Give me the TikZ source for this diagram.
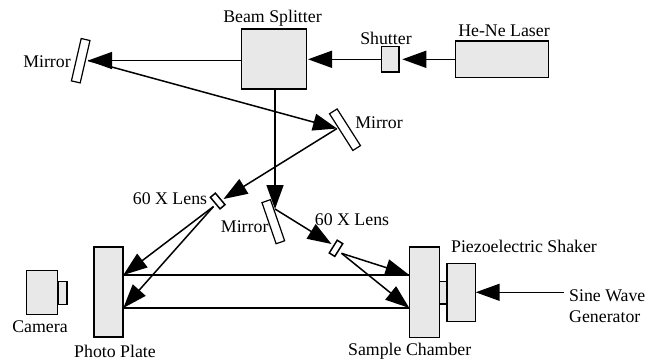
\documentclass[tikz,border=0pt]{standalone}
\usepackage{fontspec}
\setmainfont{Liberation Serif}
\usetikzlibrary{arrows.meta}
\tikzset{
  box/.style={draw,line width=1.5pt,fill=black!9,inner sep=0pt,outer sep=0pt},
  optic/.style={draw,line width=1.2pt,fill=white,inner sep=0pt,outer sep=0pt,minimum width=9pt,minimum height=43.5pt},
  lens/.style={draw,line width=1.5pt,fill=white,inner sep=0pt,outer sep=0pt,minimum width=6.5pt,minimum height=15pt},
  lbl/.style={inner sep=0pt,font=\fontsize{17.8}{21.5}\selectfont},
  beam/.style={line width=1.5pt,-{Triangle[length=24pt,width=17pt]}},
  ray/.style={line width=1.2pt},
}
\begin{document}
\begin{tikzpicture}[x=1pt,y=-1pt]
  \useasboundingbox (0,0) rectangle (651,360);
  % \draw[help lines] (0,0) grid (651,360);
  \node[box,minimum width=65pt,minimum height=60pt] (bs) at (274.2,59) {};
  \node[box,minimum width=17.5pt,minimum height=25.5pt] (shutter) at (390,59.3) {};
  \node[box,minimum width=93pt,minimum height=36.5pt] (laser) at (502.2,59) {};
  \node[optic,rotate=-13] (m1) at (80.7,60.7) {};
  \node[optic,rotate=32.5] (m2) at (345,129.7) {};
  \node[optic,rotate=19] (m3) at (273.3,221.7) {};
  \node[lens,rotate=40] (l1) at (217.7,201) {};
  \node[lens,rotate=-32] (l2) at (336,248.3) {};
  \node[box,minimum width=29pt,minimum height=90pt] (plate) at (108.5,292) {};
  \node[box,minimum width=31.4pt,minimum height=44pt] (camera) at (42,292.3) {};
  \node[box,minimum width=9.3pt,minimum height=22.6pt] (lensmount) at (62.4,293) {};
  \node[box,minimum width=30pt,minimum height=90.7pt] (chamber) at (424.3,292.3) {};
  \node[box,minimum width=7.7pt,minimum height=22.7pt] (post) at (443.2,292.6) {};
  \node[box,minimum width=28.3pt,minimum height=58pt] (shaker) at (461.2,292.3) {};

  \node[lbl] (bslab) at (272.5,18) {Beam Splitter};
  \node[lbl] (shutterlab) at (386,38) {Shutter};
  \node[lbl] (laserlab) at (504,31) {He-Ne Laser};
  \node[lbl] (m1lab) at (47,62) {Mirror};
  \node[lbl] (m2lab) at (379,123) {Mirror};
  \node[lbl] (m3lab) at (244.7,227) {Mirror};
  \node[lbl] (l1lab) at (170,199) {60 X Lens};
  \node[lbl] (l2lab) at (352,220) {60 X Lens};
  \node[lbl] (camlab) at (40,326.7) {Camera};
  \node[lbl] (platelab) at (115,351.5) {Photo Plate};
  \node[lbl] (chamberlab) at (409.7,351.5) {Sample Chamber};
  \node[lbl] (shakerlab) at (524,246.7) {Piezoelectric Shaker};
  \node[lbl,align=left,anchor=west] (sine) at (569,306) {Sine Wave\\Generator};

  \coordinate (m1hit) at (88,60.5);
  \coordinate (m2hit) at (337,128.5);
  \coordinate (m3hit) at (275,209);
  \coordinate (l1in) at (223.5,199);
  \coordinate (l1out) at (213.5,206.5);
  \coordinate (l2in) at (331.5,244);
  \coordinate (l2out) at (341.5,253.3);
  \coordinate (pa) at (123.3,275);
  \coordinate (pb) at (123.3,308);
  \coordinate (ca) at (409.3,275);
  \coordinate (cb) at (409.3,308);
  \coordinate (bsdown) at (275,89);
  \coordinate (sinein) at (475.7,292.3);
  \coordinate (sinefrom) at (564,292.3);

  \draw[beam] (laser.west |- shutter) -- ([xshift=3.5pt]shutter.east);
  \draw[beam] (shutter) -- ([xshift=1.3pt]bs.east |- shutter);
  \draw[beam] (bs.west |- m1hit) -- (m1hit);
  \draw[beam] (m1hit) -- (m2hit);
  \draw[beam] (m2hit) -- (l1in);
  \draw[beam] (bsdown) -- (m3hit);
  \draw[beam] (m3hit) -- (l2in);
  \draw[beam] (l2out) -- (ca);
  \draw[beam] (l2out) -- (cb);
  \draw[beam] (l1out) -- (pa);
  \draw[beam] (l1out) -- (pb);
  \draw[beam] (sinefrom) -- (sinein);
  \draw[ray] (pa) -- (ca);
  \draw[ray] (pb) -- (cb);
\end{tikzpicture}
\end{document}
